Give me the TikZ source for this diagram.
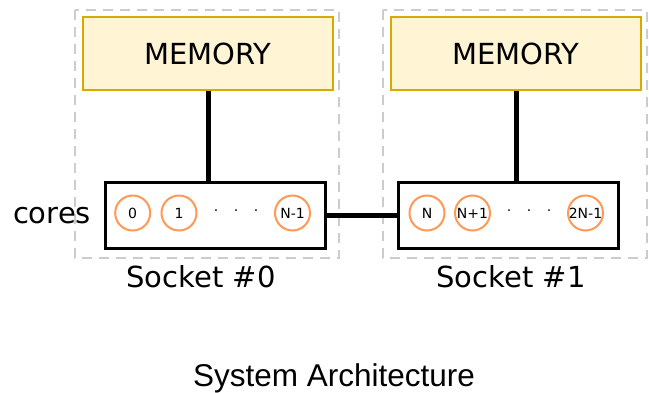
\documentclass[tikz,border=0pt]{standalone}
\usepackage{fontspec}
\setmainfont{DejaVu Sans}
\newfontfamily\titlefont{Liberation Sans}
\definecolor{memfill}{HTML}{FFF4D4}
\definecolor{memdraw}{HTML}{D6AA00}
\definecolor{coredraw}{HTML}{FF9955}
\definecolor{sockgray}{HTML}{CCCCCC}
\begin{document}
\begin{tikzpicture}[x=1pt,y=-1pt,
  sockbox/.style={draw=sockgray, line width=2pt, dash pattern=on 10pt off 7pt},
  membox/.style={draw=memdraw, fill=memfill, line width=2pt, minimum width=250pt, minimum height=73pt, inner sep=0pt, font=\fontsize{29}{31}\selectfont},
  corebox/.style={draw=black, line width=3pt, minimum width=220pt, minimum height=66pt, inner sep=0pt},
  core/.style={circle, draw=coredraw, fill=white, line width=2pt, minimum size=35pt, inner sep=0pt, font=\fontsize{14}{15}\selectfont},
  dotnode/.style={inner sep=0pt, font=\fontsize{14}{15}\selectfont},
  link/.style={draw=black, line width=5pt},
  lbl/.style={inner sep=0pt, font=\fontsize{29}{31}\selectfont}
]
\useasboundingbox (0,0) rectangle (649,392);
% socket dashed regions
\draw[sockbox] (75,10) rectangle (339,258);
\draw[sockbox] (383,10) rectangle (647,258);
% memories
\node[membox] (mem0) at (208,53.5) {MEMORY};
\node[membox] (mem1) at (516,53.5) {MEMORY};
% core boxes
\node[corebox] (cores0) at (215,215) {};
\node[corebox] (cores1) at (508,215) {};
% links
\draw[link] (mem0.south) -- (mem0.south |- cores0.north);
\draw[link] (mem1.south) -- (mem1.south |- cores1.north);
\draw[link] (cores0.east) -- (cores1.west);
% cores socket 0
\node[core] (c0) at (132.7,213) {0};
\node[core] (c1) at (179,213) {1};
\node[dotnode] (d01) at (216,213) {·};
\node[dotnode] (d02) at (236,213) {·};
\node[dotnode] (d03) at (256,213) {·};
\node[core] (cN1) at (292.5,213) {N-1};
% cores socket 1
\node[core] (cN) at (427,213) {N};
\node[core] (cNp1) at (472.5,213) {N+1};
\node[dotnode] (d11) at (509,213) {·};
\node[dotnode] (d12) at (529,213) {·};
\node[dotnode] (d13) at (549,213) {·};
\node[core] (c2N1) at (585.5,213) {2N-1};
% labels
\node[lbl, anchor=base] (coreslbl) at (52,223) {cores};
\node[lbl, anchor=base] (sock0) at (201,287) {Socket \#0};
\node[lbl, anchor=base] (sock1) at (511,287) {Socket \#1};
\node[inner sep=0pt, anchor=base, font=\titlefont\fontsize{31.5}{33}\selectfont] (title) at (334,386) {System Architecture};
\end{tikzpicture}
\end{document}
